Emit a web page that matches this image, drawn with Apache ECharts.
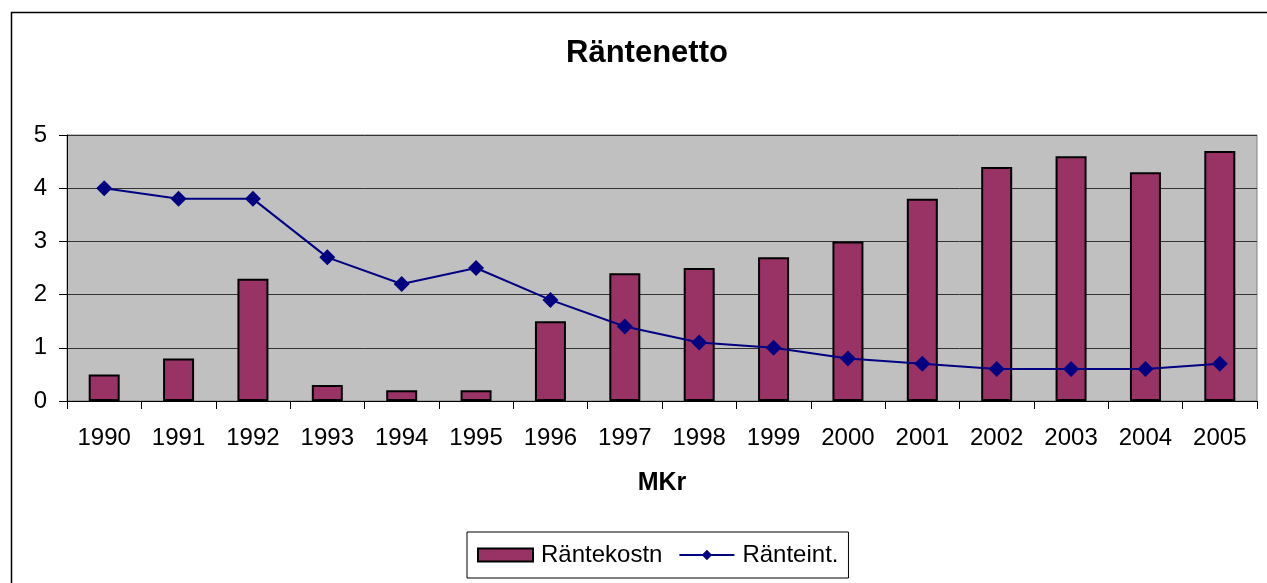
<!DOCTYPE html>
<html>
<head>
<meta charset="utf-8">
<script src="https://cdn.jsdelivr.net/npm/echarts@6/dist/echarts.min.js"></script>
<style>
html,body{margin:0;padding:0;background:#fff;}
#c{width:1267px;height:583px;}
</style>
</head>
<body>
<div id="c"></div>
<script>
const years = ['1990','1991','1992','1993','1994','1995','1996','1997','1998','1999','2000','2001','2002','2003','2004','2005'];
const rantekostn = [0.5,0.8,2.3,0.3,0.2,0.2,1.5,2.4,2.5,2.7,3.0,3.8,4.4,4.6,4.3,4.7];
const ranteint = [4.0,3.8,3.8,2.7,2.2,2.5,1.9,1.4,1.1,1.0,0.8,0.7,0.6,0.6,0.6,0.7];
const yTicks = [0,1,2,3,4,5];

const font = 'Arial, "Liberation Sans", sans-serif';
const chart = echarts.init(document.getElementById('c'), null, {renderer:'canvas'});
chart.setOption({
  animation: false,
  backgroundColor: '#fff',
  graphic: [{
    type: 'rect', left: 9, top: 10, silent: true,
    shape: {width: 1300, height: 620},
    style: {fill: 'none', stroke: '#000', lineWidth: 1.5}
  }],
  title: {
    text: 'Räntenetto',
    left: 642, top: 33, textAlign: 'center',
    textStyle: {fontFamily: font, fontSize: 31, fontWeight: 'bold', color: '#000'}
  },
  legend: {
    left: 467, top: 532,
    orient: 'horizontal',
    borderColor: '#000', borderWidth: 1,
    padding: [11, 10, 11, 10],
    itemWidth: 55, itemHeight: 13, itemGap: 16,
    textStyle: {fontFamily: font, fontSize: 24, color: '#000', padding: [0,0,0,3]},
    data: [{name: 'Räntekostn', icon: 'rect'}, {name: 'Ränteint.'}]
  },
  grid: {
    left: 67, right: 10, top: 135, bottom: 182,
    show: true, backgroundColor: '#c0c0c0', borderColor: '#808080', borderWidth: 1
  },
  xAxis: {
    type: 'category', data: years, boundaryGap: true,
    name: 'MKr', nameLocation: 'middle', nameGap: 70,
    nameTextStyle: {fontFamily: font, fontSize: 25, fontWeight: 'bold', color: '#000'},
    axisLine: {show: true, lineStyle: {color: '#000', width: 1}},
    axisTick: {show: true, interval: 0, length: 8, inside: false, lineStyle: {color: '#000'}},
    axisLabel: {interval: 0, margin: 25, fontFamily: font, fontSize: 24, color: '#000'},
    splitLine: {show: false}
  },
  yAxis: {
    type: 'value', min: yTicks[0], max: yTicks[yTicks.length-1], interval: 1,
    axisLine: {show: true, lineStyle: {color: '#000', width: 1}},
    axisTick: {show: true, length: 8, lineStyle: {color: '#000'}},
    axisLabel: {margin: 20, fontFamily: font, fontSize: 24, color: '#000'},
    splitLine: {show: true, lineStyle: {color: '#333', width: 1}}
  },
  series: [
    {
      name: 'Räntekostn', type: 'bar', data: rantekostn, barWidth: 31,
      itemStyle: {color: '#993366', borderColor: '#000', borderWidth: 2}
    },
    {
      name: 'Ränteint.', type: 'line', data: ranteint,
      symbol: 'diamond', symbolSize: 16, showSymbol: true,
      lineStyle: {color: '#000080', width: 2},
      itemStyle: {color: '#000080'}
    }
  ]
});
</script>
</body>
</html>
